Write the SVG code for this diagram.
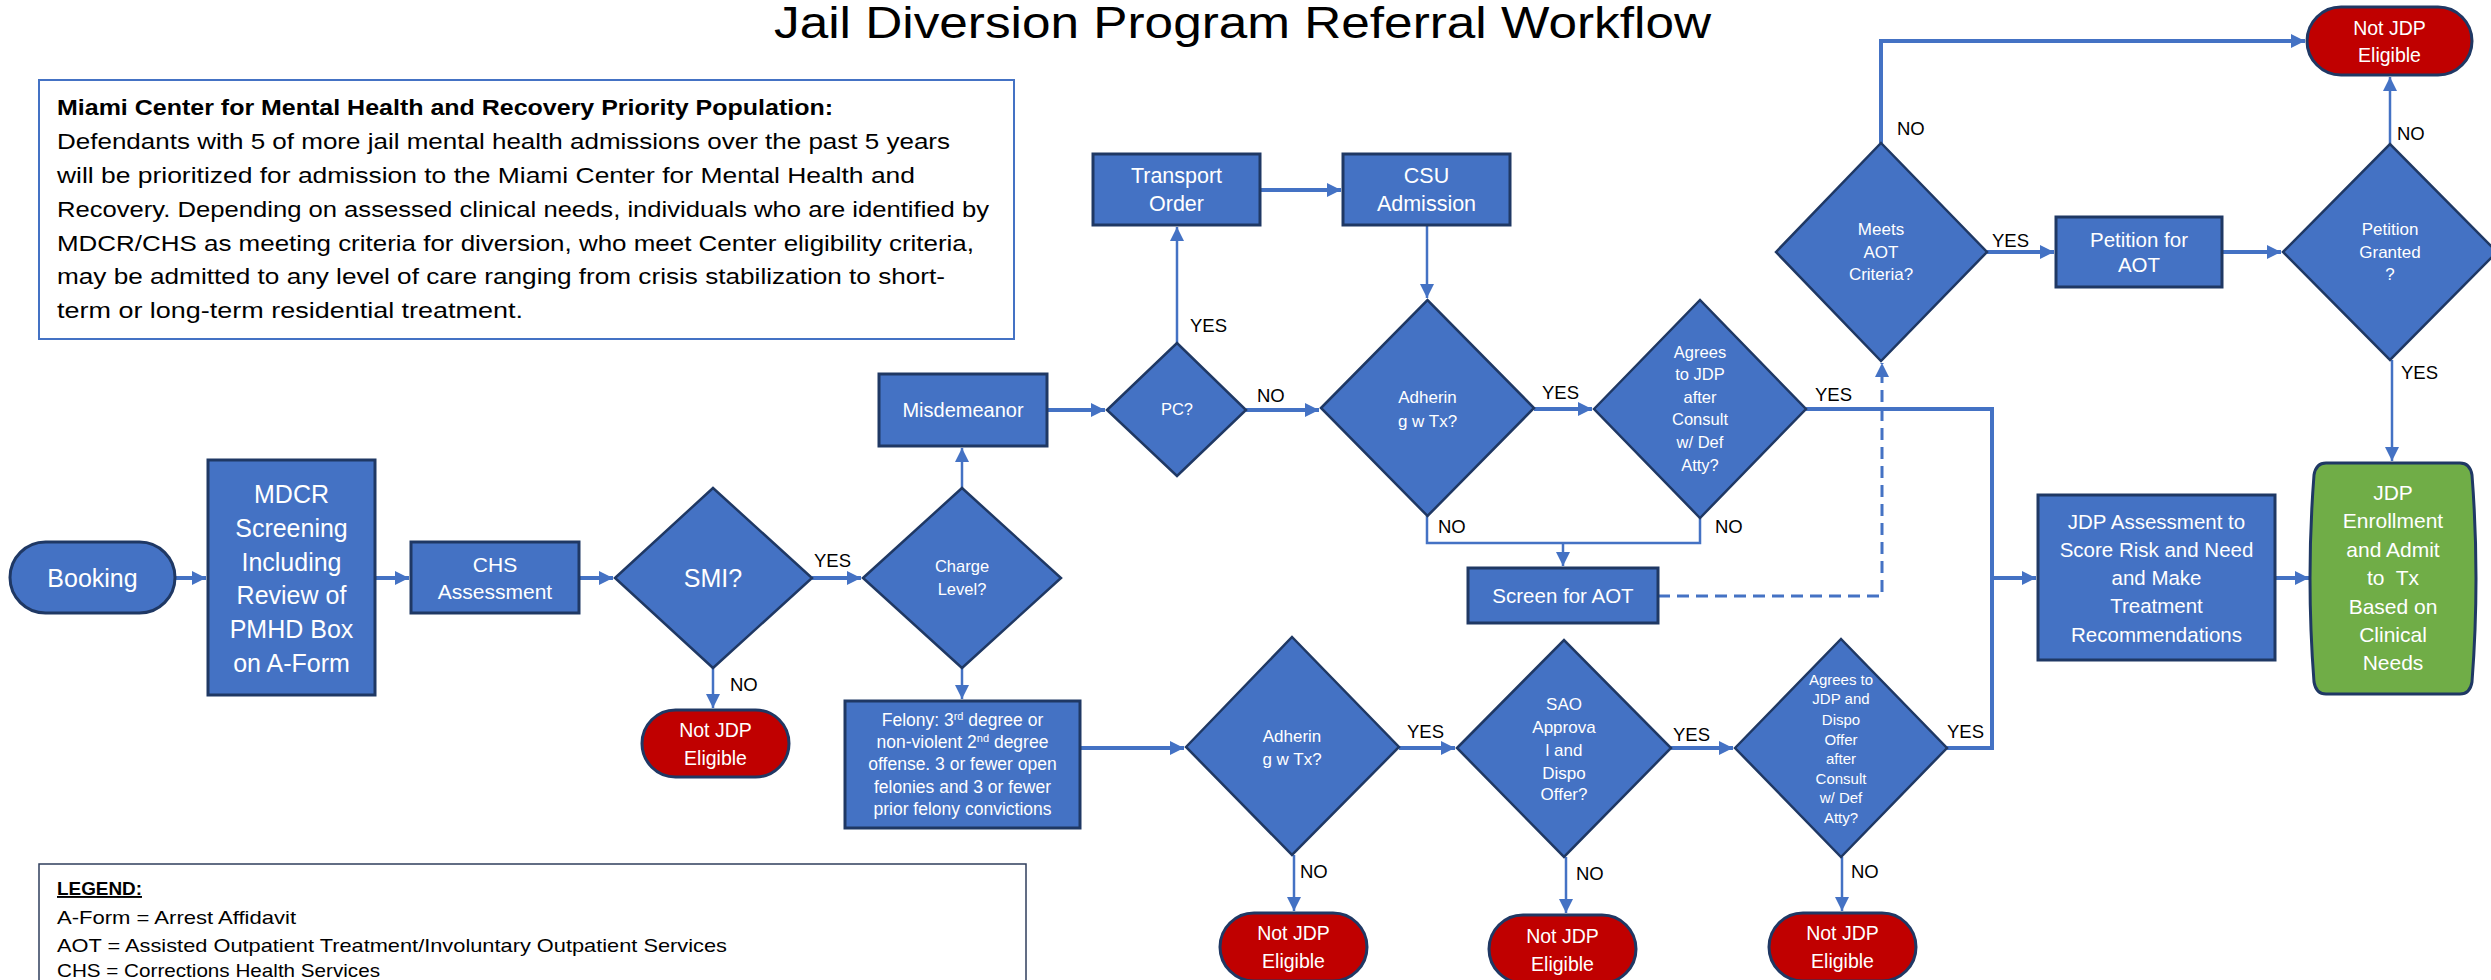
<svg xmlns="http://www.w3.org/2000/svg" width="2491" height="980" viewBox="0 0 2491 980">
<style>
text{font-family:"Liberation Sans",Arial,sans-serif}
.box{fill:#4472C4;stroke:#1F3864;stroke-width:3}
.dia{fill:#4472C4;stroke:#1F3864;stroke-width:2.5}
.red{fill:#C00000;stroke:#1F3864;stroke-width:3}
.grn{fill:#70AD47;stroke:#1F3864;stroke-width:3}
.w{fill:#fff;text-anchor:middle}
.lbl{fill:#000;font-size:18.5px}
.c{fill:none;stroke:#4472C4;stroke-width:2.5;marker-end:url(#ah)}
.cn{fill:none;stroke:#4472C4;stroke-width:2.5}
.t{stroke-width:4}
.d{stroke-dasharray:12 7;stroke-width:3}
.info{font-size:22.5px;fill:#000}
.leg{font-size:19px;fill:#000}
</style>
<defs>
<marker id="ah" markerUnits="userSpaceOnUse" markerWidth="15" markerHeight="15" refX="14" refY="7" orient="auto">
<path d="M0,0 L14,7 L0,14 z" fill="#4472C4"/>
</marker>
</defs>
<rect width="2491" height="980" fill="#fff"/>
<text x="774" y="38" font-size="44" textLength="937" lengthAdjust="spacingAndGlyphs" fill="#000">Jail Diversion Program Referral Workflow</text>

<g id="info">
<rect x="39" y="80" width="975" height="259" fill="#fff" stroke="#4472C4" stroke-width="2"/>
<text class="info" x="57" y="115" font-weight="bold" textLength="776" lengthAdjust="spacingAndGlyphs">Miami Center for Mental Health and Recovery Priority Population:</text>
<text class="info" x="57" y="149" textLength="893" lengthAdjust="spacingAndGlyphs">Defendants with 5 of more jail mental health admissions over the past 5 years</text>
<text class="info" x="57" y="183" textLength="858" lengthAdjust="spacingAndGlyphs">will be prioritized for admission to the Miami Center for Mental Health and</text>
<text class="info" x="57" y="217" textLength="932" lengthAdjust="spacingAndGlyphs">Recovery. Depending on assessed clinical needs, individuals who are identified by</text>
<text class="info" x="57" y="251" textLength="917" lengthAdjust="spacingAndGlyphs">MDCR/CHS as meeting criteria for diversion, who meet Center eligibility criteria,</text>
<text class="info" x="57" y="284" textLength="888" lengthAdjust="spacingAndGlyphs">may be admitted to any level of care ranging from crisis stabilization to short-</text>
<text class="info" x="57" y="318" textLength="466" lengthAdjust="spacingAndGlyphs">term or long-term residential treatment.</text>
</g>

<g id="legend">
<rect x="39" y="864" width="987" height="130" fill="#fff" stroke="#2F3E5C" stroke-width="1.5"/>
<text class="leg" x="57" y="895" font-weight="bold" text-decoration="underline" textLength="85" lengthAdjust="spacingAndGlyphs">LEGEND:</text>
<text class="leg" x="57" y="924" textLength="239" lengthAdjust="spacingAndGlyphs">A-Form = Arrest Affidavit</text>
<text class="leg" x="57" y="952" textLength="670" lengthAdjust="spacingAndGlyphs">AOT = Assisted Outpatient Treatment/Involuntary Outpatient Services</text>
<text class="leg" x="57" y="977" textLength="323" lengthAdjust="spacingAndGlyphs">CHS = Corrections Health Services</text>
</g>

<g id="connectors">
<path class="c t" d="M175 578 H206"/>
<path class="c t" d="M375 578 H409"/>
<path class="c t" d="M579 578 H613"/>
<path class="c t" d="M812 578 H861"/>
<path class="c" d="M713 668 V708"/>
<path class="c" d="M962 488 V448"/>
<path class="c" d="M962 668 V699"/>
<path class="c t" d="M1047 410 H1105"/>
<path class="c" d="M1177 343 V227"/>
<path class="c t" d="M1260 190 H1341"/>
<path class="c" d="M1427 225 V298"/>
<path class="c t" d="M1246 410 H1319"/>
<path class="c t" d="M1534 409 H1592"/>
<path class="cn" d="M1427 516 V543 H1700 V518"/>
<path class="c" d="M1563 543 V566"/>
<path class="c d" d="M1658 596 H1882 V363"/>
<path class="c t" d="M1806 409 H1992 V578 H2036"/>
<path class="c t" d="M1881 143 V41 H2305"/>
<path class="c t" d="M1987 252 H2054"/>
<path class="c t" d="M2222 252 H2281"/>
<path class="c" d="M2390 144 V77"/>
<path class="c" d="M2392 360 V461"/>
<path class="c t" d="M2275 578 H2309"/>
<path class="c t" d="M1080 748 H1184"/>
<path class="c t" d="M1399 748 H1455"/>
<path class="c t" d="M1671 748 H1733"/>
<path class="cn t" d="M1947 748 H1992 V578"/>
<path class="c" d="M1294 855 V911"/>
<path class="c" d="M1566 857 V913"/>
<path class="c" d="M1842 857 V911"/>
<text class="lbl" x="814" y="567">YES</text>
<text class="lbl" x="730" y="691">NO</text>
<text class="lbl" x="1190" y="332">YES</text>
<text class="lbl" x="1257" y="402">NO</text>
<text class="lbl" x="1542" y="399">YES</text>
<text class="lbl" x="1438" y="533">NO</text>
<text class="lbl" x="1715" y="533">NO</text>
<text class="lbl" x="1815" y="401">YES</text>
<text class="lbl" x="1897" y="135">NO</text>
<text class="lbl" x="1992" y="247">YES</text>
<text class="lbl" x="2397" y="140">NO</text>
<text class="lbl" x="2401" y="379">YES</text>
<text class="lbl" x="1407" y="738">YES</text>
<text class="lbl" x="1673" y="741">YES</text>
<text class="lbl" x="1947" y="738">YES</text>
<text class="lbl" x="1300" y="878">NO</text>
<text class="lbl" x="1576" y="880">NO</text>
<text class="lbl" x="1851" y="878">NO</text>
</g>

<g id="booking">
<rect class="box" x="10" y="542" width="165" height="71" rx="35.5"/>
<text class="w" x="92.5" y="587" font-size="25">Booking</text>
</g>
<g id="mdcr">
<rect class="box" x="208" y="460" width="167" height="235"/>
<text class="w" x="291.5" font-size="25"><tspan x="291.5" y="503">MDCR</tspan><tspan x="291.5" y="537">Screening</tspan><tspan x="291.5" y="571">Including</tspan><tspan x="291.5" y="604">Review of</tspan><tspan x="291.5" y="638">PMHD Box</tspan><tspan x="291.5" y="672">on A-Form</tspan></text>
</g>
<g id="chs">
<rect class="box" x="411" y="542" width="168" height="71"/>
<text class="w" font-size="21"><tspan x="495" y="572">CHS</tspan><tspan x="495" y="599">Assessment</tspan></text>
</g>
<g id="smi">
<polygon class="dia" points="615,578 713,488 812,578 713,668"/>
<text class="w" x="713" y="587" font-size="25">SMI?</text>
</g>
<g id="notjdp1">
<rect class="red" x="642" y="710" width="147" height="67" rx="33.5"/>
<text class="w" font-size="19.5"><tspan x="715.5" y="737">Not JDP</tspan><tspan x="715.5" y="765">Eligible</tspan></text>
</g>
<g id="charge">
<polygon class="dia" points="863,578 962,488 1061,578 962,668"/>
<text class="w" font-size="16.5"><tspan x="962" y="572">Charge</tspan><tspan x="962" y="595">Level?</tspan></text>
</g>
<g id="misdemeanor">
<rect class="box" x="879" y="374" width="168" height="72"/>
<text class="w" x="963" y="417" font-size="20">Misdemeanor</text>
</g>
<g id="felony">
<rect class="box" x="845" y="701" width="235" height="127"/>
<text class="w" font-size="17.5"><tspan x="962.5" y="726">Felony: 3<tspan font-size="11" dy="-6">rd</tspan><tspan dy="6"> degree or</tspan></tspan><tspan x="962.5" y="748">non-violent 2<tspan font-size="11" dy="-6">nd</tspan><tspan dy="6"> degree</tspan></tspan><tspan x="962.5" y="770">offense. 3 or fewer open</tspan><tspan x="962.5" y="793">felonies and 3 or fewer</tspan><tspan x="962.5" y="815">prior felony convictions</tspan></text>
</g>
<g id="pc">
<polygon class="dia" points="1107,410 1177,343 1246,410 1177,476"/>
<text class="w" x="1177" y="415" font-size="16.5">PC?</text>
</g>
<g id="transport">
<rect class="box" x="1093" y="154" width="167" height="71"/>
<text class="w" font-size="21.5"><tspan x="1176.5" y="183">Transport</tspan><tspan x="1176.5" y="211">Order</tspan></text>
</g>
<g id="csu">
<rect class="box" x="1343" y="154" width="167" height="71"/>
<text class="w" font-size="21.5"><tspan x="1426.5" y="183">CSU</tspan><tspan x="1426.5" y="211">Admission</tspan></text>
</g>
<g id="adherin1">
<polygon class="dia" points="1321,408 1427.5,300 1534,408 1427.5,516"/>
<text class="w" font-size="17"><tspan x="1427.5" y="403">Adherin</tspan><tspan x="1427.5" y="427">g w Tx?</tspan></text>
</g>
<g id="agrees1">
<polygon class="dia" points="1594,409 1700,300 1806,409 1700,518"/>
<text class="w" font-size="16.5"><tspan x="1700" y="358">Agrees</tspan><tspan x="1700" y="380">to JDP</tspan><tspan x="1700" y="403">after</tspan><tspan x="1700" y="425">Consult</tspan><tspan x="1700" y="448">w/ Def</tspan><tspan x="1700" y="471">Atty?</tspan></text>
</g>
<g id="screenaot">
<rect class="box" x="1468" y="568" width="190" height="55"/>
<text class="w" x="1563" y="603" font-size="20.5">Screen for AOT</text>
</g>
<g id="meetsaot">
<polygon class="dia" points="1776,252 1881,143 1987,252 1881,361"/>
<text class="w" font-size="17"><tspan x="1881" y="235">Meets</tspan><tspan x="1881" y="258">AOT</tspan><tspan x="1881" y="280">Criteria?</tspan></text>
</g>
<g id="petition">
<rect class="box" x="2056" y="217" width="166" height="70"/>
<text class="w" font-size="20.5"><tspan x="2139" y="247">Petition for</tspan><tspan x="2139" y="272">AOT</tspan></text>
</g>
<g id="granted">
<polygon class="dia" points="2283,252 2390,144 2497,252 2390,360"/>
<text class="w" font-size="17"><tspan x="2390" y="235">Petition</tspan><tspan x="2390" y="258">Granted</tspan><tspan x="2390" y="280">?</tspan></text>
</g>
<g id="notjdp-top">
<rect class="red" x="2307" y="7" width="165" height="68" rx="34"/>
<text class="w" font-size="19.5"><tspan x="2389.5" y="35">Not JDP</tspan><tspan x="2389.5" y="62">Eligible</tspan></text>
</g>
<g id="jdpassess">
<rect class="box" x="2038" y="495" width="237" height="165"/>
<text class="w" font-size="20.5"><tspan x="2156.5" y="529">JDP Assessment to</tspan><tspan x="2156.5" y="557">Score Risk and Need</tspan><tspan x="2156.5" y="585">and Make</tspan><tspan x="2156.5" y="613">Treatment</tspan><tspan x="2156.5" y="642">Recommendations</tspan></text>
</g>
<g id="jdpenroll">
<path class="grn" d="M2326 463 H2460 Q2470 463 2472 475 Q2480 578 2472 682 Q2470 694 2460 694 H2326 Q2316 694 2314 682 Q2306 578 2314 475 Q2316 463 2326 463 Z"/>
<text class="w" font-size="21" xml:space="preserve"><tspan x="2393" y="500">JDP</tspan><tspan x="2393" y="528">Enrollment</tspan><tspan x="2393" y="557">and Admit</tspan><tspan x="2393" y="585">to  Tx</tspan><tspan x="2393" y="614">Based on</tspan><tspan x="2393" y="642">Clinical</tspan><tspan x="2393" y="670">Needs</tspan></text>
</g>
<g id="adherin2">
<polygon class="dia" points="1186,747 1292,637 1399,747 1292,855"/>
<text class="w" font-size="17"><tspan x="1292" y="742">Adherin</tspan><tspan x="1292" y="765">g w Tx?</tspan></text>
</g>
<g id="sao">
<polygon class="dia" points="1457,748 1564,640 1671,748 1564,857"/>
<text class="w" font-size="17"><tspan x="1564" y="710">SAO</tspan><tspan x="1564" y="733">Approva</tspan><tspan x="1564" y="756">l and</tspan><tspan x="1564" y="779">Dispo</tspan><tspan x="1564" y="800">Offer?</tspan></text>
</g>
<g id="agrees2">
<polygon class="dia" points="1735,748 1841,639 1947,748 1841,857"/>
<text class="w" font-size="15"><tspan x="1841" y="685">Agrees to</tspan><tspan x="1841" y="704">JDP and</tspan><tspan x="1841" y="725">Dispo</tspan><tspan x="1841" y="745">Offer</tspan><tspan x="1841" y="764">after</tspan><tspan x="1841" y="784">Consult</tspan><tspan x="1841" y="803">w/ Def</tspan><tspan x="1841" y="823">Atty?</tspan></text>
</g>
<g id="notjdp2">
<rect class="red" x="1220" y="913" width="147" height="68" rx="34"/>
<text class="w" font-size="19.5"><tspan x="1293.5" y="940">Not JDP</tspan><tspan x="1293.5" y="968">Eligible</tspan></text>
</g>
<g id="notjdp3">
<rect class="red" x="1489" y="915" width="147" height="68" rx="34"/>
<text class="w" font-size="19.5"><tspan x="1562.5" y="943">Not JDP</tspan><tspan x="1562.5" y="971">Eligible</tspan></text>
</g>
<g id="notjdp4">
<rect class="red" x="1769" y="913" width="147" height="68" rx="34"/>
<text class="w" font-size="19.5"><tspan x="1842.5" y="940">Not JDP</tspan><tspan x="1842.5" y="968">Eligible</tspan></text>
</g>
</svg>
